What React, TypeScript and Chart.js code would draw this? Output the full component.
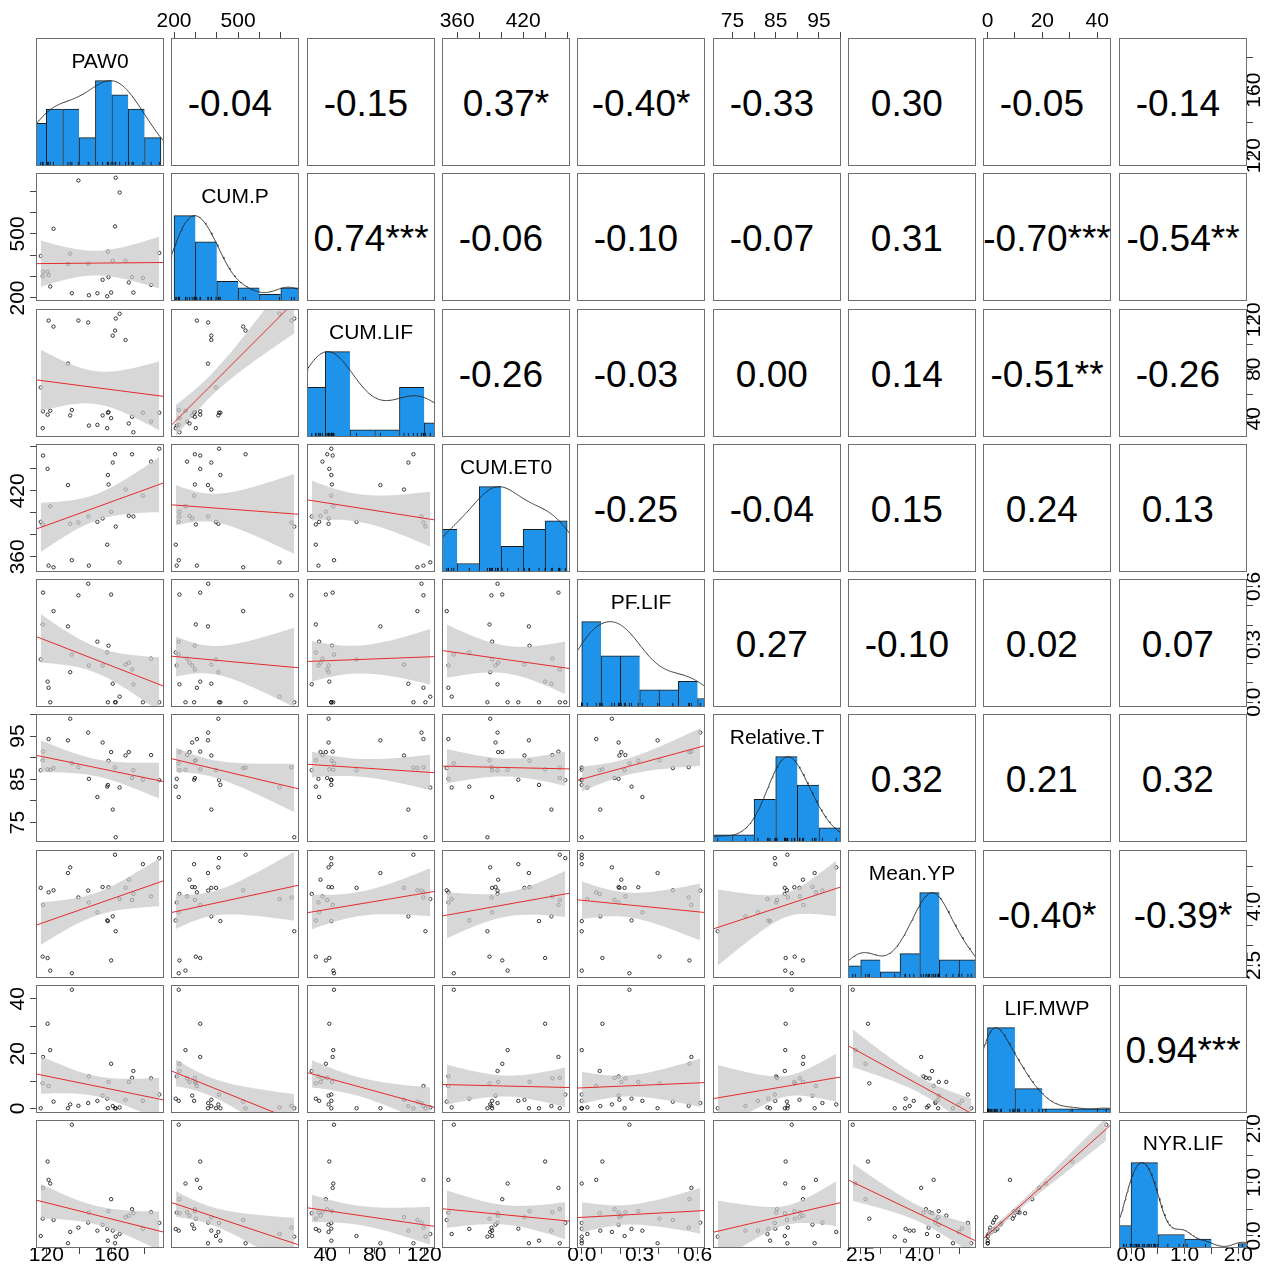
import React, { useEffect, useRef } from "react";
import { Chart, registerables } from "chart.js";

Chart.register(...registerables);

// ---------- variables (30 sites) ----------
const varNames = ["PAW0", "CUM.P", "CUM.LIF", "CUM.ET0", "PF.LIF", "Relative.T", "Mean.YP", "LIF.MWP", "NYR.LIF"];

const PAW0 = [116.6, 117.8, 118.0, 120.8, 121.4, 122.4, 124.4, 133.2, 134.6, 135.6, 139.6, 145.6, 146.0, 151.2, 154.4, 157.2, 157.6, 158.0, 159.6, 160.6, 162.0, 162.4, 164.8, 168.4, 170.4, 172.4, 173.2, 179.0, 184.0, 189.0];
const CUM_P = [396.7, 302.0, 322.6, 322.6, 307.0, 253.6, 524.0, 359.0, 407.5, 222.0, 750.0, 360.0, 212.7, 222.0, 285.0, 208.0, 417.0, 297.6, 225.4, 374.5, 535.0, 763.0, 694.0, 374.5, 272.6, 297.6, 225.4, 294.0, 261.0, 410.8];
const CUM_LIF = [65.3, 32.4, 46.0, 43.3, 119.4, 46.5, 114.5, 84.6, 42.7, 47.1, 119.4, 117.8, 34.5, 35.1, 42.7, 32.4, 44.9, 45.4, 40.5, 107.2, 111.3, 121.0, 124.9, 103.7, 36.2, 41.6, 29.1, 44.9, 37.8, 44.9];
const CUM_ET0 = [391.8, 389.4, 452.1, 440.0, 352.0, 405.9, 350.5, 425.2, 390.0, 356.9, 391.2, 396.7, 352.0, 391.8, 394.9, 371.0, 434.4, 425.8, 401.0, 445.7, 453.3, 387.5, 355.0, 421.2, 397.3, 453.3, 396.7, 415.6, 446.6, 458.3];
const PF_LIF = [0.222, 0.403, 0.568, 0.107, 0.075, 0.0, 0.472, 0.393, 0.156, 0.247, 0.554, 0.614, 0.191, 0.314, 0.191, 0.258, 0.0, 0.293, 0.558, 0.096, 0.0, 0.0, 0.029, 0.195, 0.205, 0.17, 0.093, 0.0, 0.226, 0.0];
const RELATIVE_T = [87.1, 89.4, 91.4, 87.3, 94.3, 87.2, 87.6, 94.0, 99.0, 88.7, 87.8, 95.8, 85.1, 80.9, 93.5, 83.3, 83.7, 89.3, 91.3, 78.0, 87.7, 71.6, 83.1, 90.5, 91.3, 85.3, 87.1, 84.9, 90.6, 84.8];
const MEAN_YP = [4.469, 2.72, 4.037, 2.686, 4.355, 2.366, 4.407, 4.846, 4.99, 2.298, 4.226, 4.399, 4.097, 3.849, 4.49, 3.642, 3.624, 4.485, 2.624, 3.745, 5.311, 3.366, 4.185, 4.469, 4.676, 4.159, 4.314, 5.071, 4.252, 5.226];
const LIF_MWP = [0.1, 9.2, 18.8, 30.9, 8.2, 21.3, 2.5, 0.1, 1.5, 43.3, 1.0, 2.0, 11.7, 2.8, 4.7, 3.6, 0.1, 9.7, 16.3, 0.9, 0.1, 0.1, 0.4, 3.2, 9.7, 11.2, 13.7, 2.8, 11.0, 5.1];
const NYR_LIF = [0.0, 0.323, 0.897, 1.389, 1.047, 0.978, 0.299, -0.136, 0.075, 2.075, 0.155, 0.249, 0.436, 0.099, 0.211, 0.131, -0.088, 0.462, 0.686, 0.099, -0.136, -0.013, 0.037, 0.35, 0.379, 0.499, 0.424, 0.136, 0.443, 0.243];

const series = [PAW0, CUM_P, CUM_LIF, CUM_ET0, PF_LIF, RELATIVE_T, MEAN_YP, LIF_MWP, NYR_LIF];

// correlation labels of the upper triangle (a blank follows non-significant values)
const corrRow1 = ["-0.04 ", "-0.15 ", "0.37*", "-0.40*", "-0.33 ", "0.30 ", "-0.05 ", "-0.14 "];
const corrRow2 = ["0.74***", "-0.06 ", "-0.10 ", "-0.07 ", "0.31 ", "-0.70***", "-0.54**"];
const corrRow3 = ["-0.26 ", "-0.03 ", "0.00 ", "0.14 ", "-0.51**", "-0.26 "];
const corrRow4 = ["-0.25 ", "-0.04 ", "0.15 ", "0.24 ", "0.13 "];
const corrRow5 = ["0.27 ", "-0.10 ", "0.02 ", "0.07 "];
const corrRow6 = ["0.32 ", "0.21 ", "0.32 "];
const corrRow7 = ["-0.40*", "-0.39*"];
const corrRow8 = ["0.94***"];
const corrLabels = [corrRow1, corrRow2, corrRow3, corrRow4, corrRow5, corrRow6, corrRow7, corrRow8];

// axis ticks and labelled tick values per variable
const tickSteps = [20, 100, 20, 20, 0.1, 5, 0.5, 10, 0.5];
const tickLabels = [
  ["120", "160"],
  ["200", "500"],
  ["40", "80", "120"],
  ["360", "420"],
  ["0.0", "0.3", "0.6"],
  ["75", "85", "95"],
  ["2.5", "4.0"],
  ["0", "20", "40"],
  ["0.0", "1.0", "2.0"],
];

// histogram breaks per variable
const binStarts = [110, 200, 20, 340, 0, 70, 2, 0, -0.5];
const binWidths = [10, 100, 20, 20, 0.1, 5, 0.5, 10, 0.5];
const binNumbers = [8, 6, 6, 6, 7, 6, 7, 5, 6];

// ---------- styling / layout ----------
const FONT = '"Liberation Sans", Arial, Helvetica, sans-serif';
const FRAME = "#6e6e6e";
const TICK = "#444";
const HIST_FILL = "#1f93ea";
const BAND_FILL = "rgba(200,200,200,0.72)";
const FIT_LINE = "#e42b2b";
const TICK_FONT = 21;
const TICK_LEN = 6;
const N = varNames.length;
const CELL = 128;
const colLeft = (j: number) => Math.round(36 + j * 135.35);
const rowTop = (i: number) => Math.round(38 + i * 135.25);

// ---------- helpers ----------
const mean = (v: number[]) => v.reduce((a, b) => a + b, 0) / v.length;

function paddedRange(v: number[]): [number, number] {
  const lo = Math.min(...v);
  const hi = Math.max(...v);
  const pad = (hi - lo) * 0.04;
  return [lo - pad, hi + pad];
}

// multiples of the step that fall inside the axis range
function tickValues(vi: number) {
  const [lo, hi] = paddedRange(series[vi]);
  const step = tickSteps[vi];
  const out: number[] = [];
  const k0 = Math.ceil(lo / step - 1e-9);
  const k1 = Math.floor(hi / step + 1e-9);
  for (let k = k0; k <= k1; k++) out.push(Math.round(k * step * 1e8) / 1e8);
  return out;
}

function tQuantile975(df: number) {
  const z = 1.959964;
  const z3 = z ** 3;
  const z5 = z ** 5;
  return z + (z3 + z) / (4 * df) + (5 * z5 + 16 * z3 + 3 * z) / (96 * df * df);
}

function linearFit(xs: number[], ys: number[]) {
  const n = xs.length;
  const mx = mean(xs);
  const my = mean(ys);
  let sxx = 0;
  let sxy = 0;
  for (let k = 0; k < n; k++) {
    sxx += (xs[k] - mx) ** 2;
    sxy += (xs[k] - mx) * (ys[k] - my);
  }
  const b = sxy / sxx;
  const a = my - b * mx;
  let sse = 0;
  for (let k = 0; k < n; k++) sse += (ys[k] - a - b * xs[k]) ** 2;
  const s = Math.sqrt(sse / (n - 2));
  const t = tQuantile975(n - 2);
  return { a, b, half: (x: number) => t * s * Math.sqrt(1 / n + (x - mx) ** 2 / sxx) };
}

function quantile7(sorted: number[], p: number) {
  const h = (sorted.length - 1) * p;
  const lo = Math.floor(h);
  const hi = Math.min(lo + 1, sorted.length - 1);
  return sorted[lo] + (h - lo) * (sorted[hi] - sorted[lo]);
}

function densityCurve(v: number[]) {
  const n = v.length;
  const m = mean(v);
  const sd = Math.sqrt(v.reduce((s, x) => s + (x - m) ** 2, 0) / (n - 1));
  const sorted = [...v].sort((a, b) => a - b);
  const iqr = quantile7(sorted, 0.75) - quantile7(sorted, 0.25);
  const bw = 1.2 * 1.06 * Math.min(sd, iqr / 1.34) * Math.pow(n, -0.2);
  const lo = sorted[0] - 3 * bw;
  const hi = sorted[n - 1] + 3 * bw;
  const pts: { x: number; y: number }[] = [];
  let peak = 0;
  for (let k = 0; k <= 240; k++) {
    const x = lo + ((hi - lo) * k) / 240;
    let d = 0;
    for (const xi of v) {
      const u = (x - xi) / bw;
      d += Math.exp(-0.5 * u * u);
    }
    pts.push({ x, y: d });
    peak = Math.max(peak, d);
  }
  return pts.map((p) => ({ x: p.x, y: p.y / peak }));
}

function binCounts(v: number[], start: number, width: number, nb: number) {
  const counts = new Array(nb).fill(0);
  for (const x of v) {
    let k = Math.ceil((x - start) / width - 1e-9) - 1;
    k = Math.max(0, Math.min(nb - 1, k));
    counts[k] += 1;
  }
  return counts;
}

let measureCtx: CanvasRenderingContext2D | null = null;
function textWidth(text: string, size: number) {
  if (!measureCtx) measureCtx = document.createElement("canvas").getContext("2d");
  measureCtx!.font = `${size}px ${FONT}`;
  return measureCtx!.measureText(text).width;
}

const framePlugin = {
  id: "panelFrame",
  afterDraw(chart: any) {
    const { ctx, width, height } = chart;
    ctx.save();
    ctx.strokeStyle = FRAME;
    ctx.lineWidth = 1;
    ctx.strokeRect(0.5, 0.5, width - 1, height - 1);
    ctx.restore();
  },
};

function baseOptions(scales: any, padding: any = 0) {
  return {
    responsive: false,
    maintainAspectRatio: false,
    animation: false,
    events: [],
    layout: { padding, autoPadding: false },
    plugins: {
      legend: { display: false },
      tooltip: { enabled: false },
      title: { display: false },
      filler: { drawTime: "beforeDatasetDraw", propagate: false },
    },
    scales,
  };
}

// ---------- chart configurations ----------
function scatterConfig(xi: number, yi: number) {
  const xs = series[xi];
  const ys = series[yi];
  const [x0, x1] = paddedRange(xs);
  const [y0, y1] = paddedRange(ys);
  const fit = linearFit(xs, ys);
  const xmin = Math.min(...xs);
  const xmax = Math.max(...xs);
  const upper: { x: number; y: number }[] = [];
  const lower: { x: number; y: number }[] = [];
  for (let k = 0; k <= 48; k++) {
    const x = xmin + ((xmax - xmin) * k) / 48;
    const yhat = fit.a + fit.b * x;
    upper.push({ x, y: yhat + fit.half(x) });
    lower.push({ x, y: yhat - fit.half(x) });
  }
  return {
    type: "scatter",
    data: {
      datasets: [
        {
          type: "line",
          data: [
            { x: x0, y: fit.a + fit.b * x0 },
            { x: x1, y: fit.a + fit.b * x1 },
          ],
          borderColor: FIT_LINE,
          borderWidth: 1,
          pointRadius: 0,
          fill: false,
        },
        {
          type: "line",
          data: upper,
          borderColor: "rgba(0,0,0,0)",
          borderWidth: 0,
          pointRadius: 0,
          backgroundColor: BAND_FILL,
          fill: "+1",
        },
        {
          type: "line",
          data: lower,
          borderColor: "rgba(0,0,0,0)",
          borderWidth: 0,
          pointRadius: 0,
          fill: false,
        },
        {
          type: "scatter",
          data: xs.map((x, k) => ({ x, y: ys[k] })),
          pointRadius: 1.7,
          pointBorderWidth: 0.85,
          pointBorderColor: "#151515",
          pointBackgroundColor: "rgba(0,0,0,0)",
        },
      ],
    },
    options: baseOptions({
      x: { type: "linear", min: x0, max: x1, display: false },
      y: { type: "linear", min: y0, max: y1, display: false },
    }),
    plugins: [framePlugin],
  };
}

function histogramConfig(vi: number) {
  const v = series[vi];
  const [x0, x1] = paddedRange(v);
  const start = binStarts[vi];
  const width = binWidths[vi];
  const nb = binNumbers[vi];
  const counts = binCounts(v, start, width, nb);
  const top = Math.max(...counts);
  const bars = counts.map((c, k) => ({ x: start + width * (k + 0.5), y: c / top }));
  const rugY = (2 * 1.5) / CELL;
  return {
    type: "bar",
    data: {
      datasets: [
        {
          type: "line",
          data: v.map((x) => ({ x, y: rugY })),
          showLine: false,
          pointStyle: "line",
          pointRotation: 90,
          pointRadius: 2.1,
          pointBorderWidth: 0.8,
          pointBorderColor: "#000",
        },
        {
          type: "line",
          data: densityCurve(v),
          borderColor: "#262626",
          borderWidth: 0.9,
          pointRadius: 0,
          fill: false,
          tension: 0,
        },
        {
          type: "bar",
          data: bars,
          backgroundColor: HIST_FILL,
          borderColor: "#1b1b1b",
          borderSkipped: false,
          borderWidth: (ctx: any) => ({ top: 1, left: 1, bottom: 0, right: ctx.dataIndex === nb - 1 ? 1 : 0 }),
          barPercentage: 1,
          categoryPercentage: 1,
          grouped: false,
        },
      ],
    },
    options: baseOptions({
      x: { type: "linear", min: x0, max: x1, offset: false, display: false },
      y: { type: "linear", min: 0, max: 1.5, display: false },
    }),
    plugins: [framePlugin],
  };
}

type Side = "top" | "bottom" | "left" | "right";

function axisConfig(vi: number, side: Side, band: number) {
  const [lo, hi] = paddedRange(series[vi]);
  const horizontal = side === "top" || side === "bottom";
  const labels = tickLabels[vi];
  const values = tickValues(vi);
  const lineHalf = (TICK_FONT * 1.2) / 2;
  const widest = Math.max(...labels.map((l) => textWidth(l, TICK_FONT)));
  let padding = 0;
  if (side === "top") padding = 38 - TICK_LEN - lineHalf - 20.8;
  if (side === "bottom") padding = 1255.5 - 1248 - TICK_LEN - lineHalf;
  if (side === "left") padding = 18 - TICK_LEN - widest / 2;
  if (side === "right") padding = 7.5 - TICK_LEN - widest / 2;

  const scale = {
    type: "linear",
    position: side,
    min: lo,
    max: hi,
    display: true,
    afterBuildTicks: (s: any) => {
      s.ticks = values.map((value) => ({ value }));
    },
    afterFit: (s: any) => {
      if (horizontal) s.height = band;
      else s.width = band;
    },
    grid: {
      display: true,
      drawOnChartArea: false,
      drawTicks: true,
      tickLength: TICK_LEN,
      tickColor: TICK,
      tickWidth: 1,
      color: TICK,
    },
    border: { display: false },
    ticks: {
      autoSkip: false,
      minRotation: horizontal ? 0 : 90,
      maxRotation: horizontal ? 0 : 90,
      crossAlign: horizontal ? "near" : "center",
      padding,
      color: "#000",
      font: { family: FONT, size: TICK_FONT },
      callback: (value: any) => {
        const num = Number(value);
        const hit = labels.find((l) => Math.abs(parseFloat(l) - num) < 1e-6 * Math.max(1, Math.abs(num)));
        return hit ?? "";
      },
    },
  };
  const pad = horizontal ? { left: 40, right: 40, top: 0, bottom: 0 } : { left: 0, right: 0, top: 40, bottom: 40 };
  const scales = horizontal ? { x: scale, y: { display: false } } : { y: scale, x: { display: false } };
  return {
    type: "scatter",
    data: { datasets: [] },
    options: baseOptions(scales, pad),
  };
}

// ---------- components ----------
function ChartCanvas(props: { left: number; top: number; width: number; height: number; build: () => any }) {
  const { left, top, width, height, build } = props;
  const ref = useRef<HTMLCanvasElement | null>(null);
  useEffect(() => {
    if (!ref.current) return;
    const chart = new Chart(ref.current, build());
    return () => chart.destroy();
  }, []);
  return (
    <canvas
      ref={ref}
      width={width}
      height={height}
      style={{ position: "absolute", left, top, width, height, display: "block" }}
    />
  );
}

export default function App() {
  const items: React.ReactNode[] = [];

  for (let i = 0; i < N; i++) {
    for (let j = 0; j < N; j++) {
      const left = colLeft(j);
      const top = rowTop(i);
      if (i === j) {
        items.push(
          <ChartCanvas key={`h${i}`} left={left} top={top} width={CELL} height={CELL} build={() => histogramConfig(i)} />
        );
        items.push(
          <div
            key={`n${i}`}
            style={{
              position: "absolute",
              left,
              top: top + 11,
              width: CELL,
              textAlign: "center",
              font: `21px ${FONT}`,
              lineHeight: "24px",
              color: "#000",
            }}
          >
            {varNames[i]}
          </div>
        );
      } else if (i > j) {
        items.push(
          <ChartCanvas key={`s${i}-${j}`} left={left} top={top} width={CELL} height={CELL} build={() => scatterConfig(j, i)} />
        );
      } else {
        items.push(
          <div
            key={`c${i}-${j}`}
            style={{
              position: "absolute",
              left,
              top,
              width: CELL,
              height: CELL,
              boxSizing: "border-box",
              border: `1px solid ${FRAME}`,
              display: "flex",
              alignItems: "center",
              justifyContent: "center",
              font: `37px ${FONT}`,
              lineHeight: 1,
              whiteSpace: "pre",
              paddingTop: 3,
              color: "#000",
            }}
          >
            {corrLabels[i][j - i - 1]}
          </div>
        );
      }
    }
  }

  // outer axes, alternating sides as in a scatterplot matrix
  for (let j = 0; j < N; j++) {
    if (j % 2 === 1) {
      items.push(
        <ChartCanvas key={`at${j}`} left={colLeft(j) - 40} top={0} width={CELL + 80} height={39} build={() => axisConfig(j, "top", 38)} />
      );
    } else {
      items.push(
        <ChartCanvas
          key={`ab${j}`}
          left={colLeft(j) - 40}
          top={rowTop(N - 1) + CELL - 1}
          width={CELL + 80}
          height={1267 - (rowTop(N - 1) + CELL - 1)}
          build={() => axisConfig(j, "bottom", 1267 - (rowTop(N - 1) + CELL - 1) - 1)}
        />
      );
    }
  }
  for (let i = 0; i < N; i++) {
    if (i % 2 === 1) {
      items.push(
        <ChartCanvas key={`al${i}`} left={0} top={rowTop(i) - 40} width={colLeft(0) + 1} height={CELL + 80} build={() => axisConfig(i, "left", colLeft(0))} />
      );
    } else {
      const x = colLeft(N - 1) + CELL - 1;
      items.push(
        <ChartCanvas key={`ar${i}`} left={x} top={rowTop(i) - 40} width={1268 - x} height={CELL + 80} build={() => axisConfig(i, "right", 1268 - x - 1)} />
      );
    }
  }

  return (
    <div
      style={{
        position: "absolute",
        left: 0,
        top: 0,
        width: 1268,
        height: 1267,
        overflow: "hidden",
        background: "#ffffff",
        fontFamily: FONT,
      }}
    >
      {items}
    </div>
  );
}
